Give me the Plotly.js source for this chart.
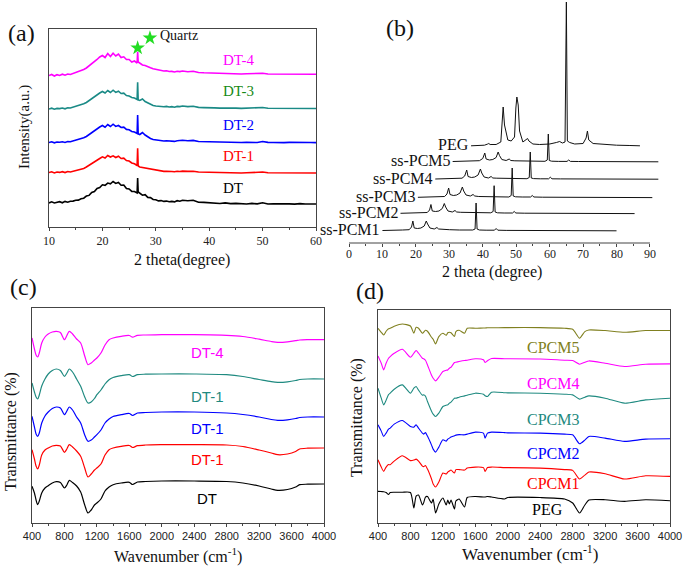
<!DOCTYPE html>
<html><head><meta charset="utf-8">
<script src="https://cdn.plot.ly/plotly-3.0.1.min.js"></script>
<style>html,body{margin:0;padding:0;background:#fff}#chart{width:685px;height:568px}</style>
</head><body><div id="chart"></div>
<script>
// ---------- Panel (a): XRD of DT samples (stacked intensity) ----------
const xA = [10,10.5,11,11.5,12,12.5,13,13.5,14,14.5,
  15,15.5,16,16.5,17,17.5,18,18.5,19,19.5,
  20,20.5,21,21.5,22,22.5,23,23.5,24,24.5,
  25,25.5,26,26.5,26.6,26.7,
  27,27.5,28,28.5,29,29.5,
  30,30.5,31,31.5,32,32.5,33,33.5,34,34.5,35,
  36,37,38,39,40,41,42,43,44,45,46,47,48,49,50,51,52,53,54,55,56,57,58,59,60];
const yDT = [24,25.2,24,24.8,25.3,24.2,25.6,24.8,25.8,25.9,
  26.8,26.9,28.3,28.8,30.9,31.6,34.5,35.4,38.6,39.4,
  42.2,41.6,43.9,43.2,45.5,43.6,44.5,41.8,42,38.4,
  38,35.6,35.5,34,49,35,
  33.6,31.8,32.4,29.6,29.4,27.5,
  27.3,26.1,26.4,25.6,25.9,25.2,25.6,25.1,26.3,25.8,26.8,
  26.3,26.8,24.8,24.6,24.2,24.1,23.5,24.1,23.4,23.6,23.3,23,23.6,23.1,24.2,23,23.2,23.4,23,23.1,22.9,23.4,23,23.1,23];
const yDT1 = [54.5,55.2,54,55,54.6,55.3,54.4,55.5,55,55.8,
  56,56.8,57.5,58.6,60,61.8,63.5,65.8,67,68.5,
  70.2,69,71.5,70,71.2,69.5,70.8,68.5,68.8,66.5,
  66,64,63.2,61.5,78.7,61,
  60,59.5,58.5,58,57.5,57,
  56.5,56.2,56,55.6,55.8,55.3,55.5,55.2,55.8,55.5,55.9,
  55.6,55.8,55,54.8,54.6,54.5,54.2,54.5,54.2,54.3,54,54.2,54.4,54.1,55,54.2,54.1,54.3,54,54.2,54,54.2,53.9,54.1,54];
const yDT2 = [84.5,85.2,84.2,85,84.8,85.3,84.6,85.4,85.2,86,
  86.3,87,88,89.2,90.5,92.5,94.5,96.5,98.2,100,
  101.5,99.8,102.5,100.5,102.8,100.6,101.5,99.5,99.8,97.6,
  97.2,95.5,95,93.5,112,93,
  92.5,94.5,92,90,88.5,87.5,
  87,86.5,86.4,86,86.2,85.8,86,85.6,86.3,86.5,86.8,
  86.2,86.6,85.5,85.3,85.5,85,84.8,85,84.6,84.8,84.5,84.7,84.9,84.5,85.5,84.6,84.5,84.8,84.4,84.6,84.4,84.6,84.3,84.5,84.4];
const yDT3 = [118,118.8,117.8,118.6,118.4,119,118.2,119.2,119,119.8,
  120.2,121,122,123.2,124.5,126.5,128.5,130.5,132.5,134,
  135.5,134,136.5,134.5,136.8,134.6,135.8,133.5,133.8,131.5,
  131,129.5,129,127.5,144.7,127,
  126.5,128,125.5,124,122.5,121.5,
  121,120.6,120.5,120.2,120.6,120,120.4,119.8,120.6,120.4,121,
  120.4,120.8,119.6,119.4,119.6,119.1,118.9,119.1,118.7,118.9,118.6,118.8,119,118.6,119.5,118.7,118.6,118.9,118.5,118.7,118.5,118.7,118.4,118.6,118.5];
const yDT4 = [151.5,152.5,151,152.3,151.6,152.8,151.8,153,152.5,153.5,
  154,155.2,156,157.5,159,161,163,165.5,167.5,170,
  171.5,169.5,173.5,170.5,173.8,171,173,169.5,170.2,167.5,
  167.5,165,166,164,175.3,165,
  163.5,162,161.5,160,159.2,158.2,
  157.5,157,156.5,156,156.2,155.5,155.6,155,155.8,155.4,156,
  155.2,155.8,154.5,154.2,154,153.6,153.4,153.6,153.2,153.3,153,153.2,153.4,153,153.8,153,152.9,153.2,152.8,153,152.7,152.9,152.6,152.8,152.7];
const namesA = ['DT','DT-1','DT-2','DT-3','DT-4'];
const starX = [26.6, 28.9];
const starY = [179, 189];

// ---------- Panel (b): XRD waterfall ----------
const xP1 = [10,12,14,16,18,18.7,19.1,19.5,20.5,21.5,22.5,23.1,23.5,24.2,25.5,26.3,26.8,28,30,33,35,37,37.7,38,38.3,39,41,43.5,44,44.5,47,50,55,60,65,70,75,80];
const yP1 = [12.5,12.5,12.8,13,13.3,16,22,15,14.5,15,17,22,19,15,14,15.5,14,13.5,13.3,13,13,13,14,40,14,13,12.8,12.8,14.5,12.8,12.6,12.6,12.5,12.4,12.4,12.5,12.3,12.2];
const xP2 = [15.4,17.4,19.4,21.4,23.4,24.1,24.5,24.9,25.9,26.9,27.9,28.5,28.9,29.6,30.9,31.7,32.2,33.4,35.4,38.4,40.4,42.4,43.1,43.4,43.7,44.4,46.4,48.9,49.4,49.9,52.4,55.4,60.4,65.4,70.4,75.4,80.4,85.4];
const yP2 = [29.7,29.8,30,30.2,30.5,33,38.5,32,31.5,32,34.5,39.5,36,32,31,32.5,31,30.7,30.5,30.3,30.2,30.2,31.5,57.3,31,30.2,30,30,31.5,30,29.8,29.8,29.7,29.6,29.6,29.7,29.5,29.4];
const xP3 = [20.6,22.6,24.6,26.6,28.6,29.3,29.8,30.2,31.2,32.2,33.2,33.9,34.3,35,36.3,37.1,37.6,38.8,40.8,43.8,45.8,47.8,48.5,48.8,49.1,49.8,51.8,54.3,54.8,55.3,57.8,60.8,65.8,70.8,75.8,80.8,85.8,90.7];
const yP3 = [45.7,45.8,46,46.2,46.5,49,55,48.5,47.5,48,50,56,52,48,47,48.5,47,46.5,46.3,46.1,46,46,47.5,75,47,46.2,46,46,47.5,46,45.8,45.8,45.7,45.6,45.6,45.7,45.5,45.4];
const xP4 = [25.8,27.8,29.8,31.8,33.8,34.6,35.2,35.6,36.6,37.6,38.6,39.3,39.7,40.4,41.7,42.5,43,44.2,46.2,49.2,51.2,53.2,53.9,54.2,54.5,55.2,57.2,59.7,60.2,60.7,63.2,66.2,71.2,76.2,81.2,86.2,90,92.5];
const yP4 = [64,64.1,64.3,64.5,64.8,67,73,66.5,65.5,66,68,74,70,66,65,66.5,65,64.8,64.6,64.4,64.3,64.3,65.5,91,65,64.4,64.2,64.2,65.8,64.2,64.1,64,64,63.9,63.9,64,63.8,63.8];
const xP5 = [31,33,35,37,39,40,40.6,41,42,43,44,44.6,45,45.7,47,47.9,48.4,49.6,51.6,54.6,56.6,58.6,59.3,59.6,59.9,60.6,62.6,65.2,65.7,66.2,68.6,71.6,76.6,81.6,86.6,90,91.5,92.5];
const yP5 = [81.5,81.6,81.8,82,82.3,84.5,90,84,83,83.5,85.5,91,87.5,83.5,82.5,84,82.5,82.2,82,81.8,81.7,81.7,83,109,82.5,81.8,81.6,81.6,83,81.6,81.5,81.4,81.4,81.3,81.3,81.4,81.2,81.2];
const xPEG = [36.5,38.5,40.5,41.5,41.8,42.2,44,45.4,45.8,46.1,46.5,47.5,48.5,49.5,49.9,50.2,50.6,51,52,53,53.4,53.8,55,57,60,62,63,63.8,64.6,65,65.3,66,66.5,67.5,70,70.9,71.3,71.7,73,76,80,84,87];
const yPEG = [97.2,97.5,97.8,99,99.5,98.5,98.5,101,125,136,118,103,102,106,135,146,138,112,101,103,104.5,102,99,98.5,99,100.5,101.5,100,101,241,102,100.5,100,99,99.5,105,112,103,99.5,98.5,97.8,97.5,97.2];
const namesB = ['ss-PCM1','ss-PCM2','ss-PCM3','ss-PCM4','ss-PCM5','PEG'];
const ticksB = [0,10,20,30,40,50,60,70,80,90];

// ---------- Panel (c): FTIR of DT samples ----------
const wnC = [400,430,450,470,490,520,560,600,650,700,750,800,830,860,900,950,1000,1050,1090,1130,1170,1200,1250,1300,1350,1400,1500,1600,1640,1700,1800,2000,2400,2800,3000,3200,3350,3430,3550,3650,3700,3800,4000];
const cDT  = [36.7,30,23,18.3,22,30,35,37.3,40,41.3,40.5,35,38,42.7,40.5,37,31,18,10,13,18,20,24,32,36,38.3,40,40.7,38.5,41,41.5,42,42,41.5,40,37,34,32.7,33.5,36,38.3,38.8,39];
const cRed = [73.3,64,57,54,58,68,73,75,77,77.7,77,70.7,74,78.3,76,72,66.7,55,46,49,53,55,59,68,73.3,75,76.7,77.5,75.5,77.3,78,78.3,78.3,78,76.5,73,70,68.3,69,71.5,74,74.8,75];
const cBlue = [106.7,96,89,86.7,90,100,107,111,114.5,116,115,108.3,112,116,113,106,100,88,81.7,83,86,88.3,93,100,104,106.5,108.3,109.5,107.5,110,110.5,111,111,110,108.5,106,103.5,102.7,103.2,104.5,105.5,106,106];
const cTeal = [140,131,126,124,128,137,144,149,152.5,154,152.5,146.7,150,154,151,144,136.7,126,120,121,124.5,128.3,133,139,143.3,145.5,147.3,148.3,146.5,148.3,148.8,149,149,148.3,146.5,143.5,141.3,140.7,141.2,142.5,143.5,144,144];
const cPink = [185,174,168,166,170,180,186,189,191,191.7,190.5,183.3,187.5,191.7,189,184,180,167,158.3,160,163,165,170,178,183.3,185,186.7,187.5,185.8,187.7,188,188.3,188.3,187.7,186.5,183.8,181.5,180.7,181.2,182.3,183,183.3,183.3];
const namesC = ['DT','DT-1','DT-1','DT-1','DT-4'];

// ---------- Panel (d): FTIR of PEG and CPCMs ----------
const wnD = [400,440,470,500,530,550,600,700,800,842,870,900,947,962,985,1010,1060,1080,1110,1150,1200,1241,1260,1280,1300,1343,1360,1400,1467,1500,1600,1700,1720,1750,1800,1960,2000,2400,2700,2800,2885,2950,3000,3200,3440,3700,4000];
const dPEG = [31.7,31.5,31.3,30.5,28.5,30.5,30.8,30.8,30.5,15,27,28,18,20,26,26.5,20,24,10,19,25,18,23,19,23,14,22,24,16,25.5,26.5,26,26,26.5,26,24,25.5,25.5,24,20,10,18,23,23.3,21.7,23.3,22.3];
const dC1 = [63.3,56,51.7,56,58.5,58.3,62,67.3,62.5,63,64,62,57,56.5,57.5,54,44,39,36,41,50,49,51,52,53,50,53.5,53.5,53,55,56,55.5,51.7,55.5,56,55.5,55.5,55,53.5,52.7,44,48,51,49.3,44,47.3,46.7];
const dC2 = [98.3,92,86.7,90,94,95,99,102.7,96.7,96,98.3,95,90,89,90.5,87,78,74,71,76,83.3,82,84,85,86,87.3,88,88.5,88.3,89,91,90,85,90,91,90.5,90.3,90,89,88.3,79.3,83,86.7,85,81.7,84,84.3];
const dC3 = [135,125,118.3,123,128.5,130,134,138.3,130,135,136.7,133,128,128.5,127,121.7,112,109,106.7,110,116.7,118,118.3,120,121,125,125,126,127.3,128,130,129,127.5,126.7,131,130.5,130.3,130,129,128.3,124,126,127.3,125,120,123.3,125];
const dC4 = [167.3,160,153.3,160,165,166.7,170,174,166,170,172.7,170,165,164.5,163,158.3,148,145,142.3,146,151.7,153,153.3,155,156,160.7,161,161.7,162.7,163,164.5,163.5,160.7,162.5,164.7,164.5,164.5,164.3,163,162.7,159,161,162.3,160,156.7,159,159.3];
const dC5 = [195,191,188.3,192,194.5,195,197,199.3,197.3,190,196,195,190,191,193,192,186,184,179.3,186.7,190,188,190.5,191,190.5,186.7,191.7,193,190,195,195,195.3,195.3,195.5,195.5,195.7,195.7,195.7,195,194,185,191.7,193.3,192.7,191,192.7,192.7];
const namesD = ['PEG','CPCM1','CPCM2','CPCM3','CPCM4','CPCM5'];

// ---------- styling ----------
const W = 685, H = 568;
const SERIF = 'Liberation Serif, Times New Roman, serif';
const SANS = 'Liberation Sans, Arial, sans-serif';
const FRAME = '#444';
const colA = ['#000000','#ff0000','#0000ff','#1a8a86','#ff00ff'];
const labColA = ['#000000','#ff0000','#0000ff','#158a15','#ff00ff'];
const colC = ['#000000','#ff0000','#0000ff','#1f8a80','#ff00ff'];
const colD = ['#000000','#ff0000','#0000ff','#1f8a80','#ff00ff','#808020'];

const traces = [];
const aY = [yDT,yDT1,yDT2,yDT3,yDT4];
aY.forEach((y,i)=>traces.push({x:xA,y:y,xaxis:'x',yaxis:'y',mode:'lines',name:namesA[i],line:{color:colA[i],width:1.6}}));
traces.push({x:starX,y:starY,xaxis:'x',yaxis:'y',mode:'markers',name:'Quartz',marker:{symbol:'star',size:11,color:'#22dd22',line:{width:0}},cliponaxis:false});
const bX = [xP1,xP2,xP3,xP4,xP5,xPEG], bY = [yP1,yP2,yP3,yP4,yP5,yPEG];
bX.forEach((x,i)=>traces.push({x:x,y:bY[i],xaxis:'x2',yaxis:'y2',mode:'lines',name:namesB[i],line:{color:'#111',width:1}}));
const cY = [cDT,cRed,cBlue,cTeal,cPink];
cY.forEach((y,i)=>traces.push({x:wnC,y:y,xaxis:'x3',yaxis:'y3',mode:'lines',name:namesC[i],line:{color:colC[i],width:1.2,shape:'spline',smoothing:0.8}}));
const dY = [dPEG,dC1,dC2,dC3,dC4,dC5];
dY.forEach((y,i)=>traces.push({x:wnD,y:y,xaxis:'x4',yaxis:'y4',mode:'lines',name:namesD[i],line:{color:colD[i],width:1.1,shape:'spline',smoothing:0.6}}));

function px(x){return x/W;} function py(y){return 1-y/H;}
function frameX(anchor,dom,range,t0,dt,mdt,font){
  return {anchor:anchor,domain:dom,range:range,showgrid:false,zeroline:false,showline:true,mirror:true,linecolor:FRAME,linewidth:1,
    ticks:'outside',ticklen:3,tickcolor:FRAME,tick0:t0,dtick:dt,tickfont:font,
    minor:{ticks:'outside',ticklen:2,dtick:mdt,tickcolor:FRAME,showgrid:false}};
}
function frameY(anchor,dom,range){
  return {anchor:anchor,domain:dom,range:range,showgrid:false,zeroline:false,showline:true,mirror:true,linecolor:FRAME,linewidth:1,
    ticks:'',showticklabels:false};
}
const layout = {
  width:W,height:H,margin:{l:0,r:0,t:0,b:0},paper_bgcolor:'#fff',plot_bgcolor:'#fff',showlegend:false,
  xaxis: frameX('y',[px(49),px(316)],[10,60],10,10,5,{family:SERIF,size:12,color:'#222'}),
  yaxis: frameY('x',[py(227),py(29)],[0,198]),
  xaxis2:{anchor:'y2',domain:[px(349),px(660)],range:[0,93],showgrid:false,zeroline:false,showline:false,
    ticks:'outside',ticklen:3,tickcolor:FRAME,tickmode:'array',tickvals:ticksB,showticklabels:false,
    minor:{ticks:'outside',ticklen:2,dtick:5,tickcolor:FRAME,showgrid:false}},
  yaxis2:{anchor:'x2',domain:[py(243),1],range:[0,243],visible:false},
  xaxis3: frameX('y3',[px(32),px(324)],[400,4000],400,400,200,{family:SANS,size:11,color:'#222'}),
  yaxis3: frameY('x3',[py(523),py(308)],[0,215]),
  xaxis4: frameX('y4',[px(378),px(670)],[400,4000],400,400,200,{family:SANS,size:11,color:'#222'}),
  yaxis4: frameY('x4',[py(523),py(310)],[0,213.3]),
  shapes:[{type:'line',xref:'x2',yref:'paper',x0:0,x1:90,y0:py(243),y1:py(243),line:{color:FRAME,width:1}}],
  annotations:[]
};
const A = layout.annotations;
function ann(text,x,y,size,family,color,extra){A.push(Object.assign({text:text,x:px(x),y:py(y),xref:'paper',yref:'paper',showarrow:false,
  font:{family:family,size:size,color:color||'#111'},xanchor:'center',yanchor:'middle'},extra||{}));}
// panel letters
ann('(a)',21,33,24,SERIF); ann('(b)',400,28,24,SERIF); ann('(c)',23,287,24,SERIF); ann('(d)',370,291,24,SERIF);
// axis titles
ann('Intensity(a.u.)',25,127,15,SERIF,'#111',{textangle:-90});
ann('2 theta(degree)',182,260,16,SERIF);
ann('2 theta (degree)',492,272,16,SERIF);
ann('Transmittance (%)',11,432,16,SERIF,'#111',{textangle:-90});
ann('Transmittance (%)',357,418,16,SERIF,'#111',{textangle:-90});
ann('Wavenumber (cm<sup>-1</sup>)',178,555,16,SERIF);
ann('Wavenumber (cm<sup>-1</sup>)',530,553,17,SERIF);
// panel (b) tick labels, placed on the x2 scale
ticksB.forEach(t=>A.push({text:String(t),x:t,y:py(254),xref:'x2',yref:'paper',showarrow:false,xanchor:'center',yanchor:'middle',
  font:{family:SERIF,size:12,color:'#222'}}));
// panel (a) labels
const labA = [[233,188],[238,156],[238,125],[238,91],[239,60]];
namesA.forEach((n,i)=>ann(n,labA[i][0],labA[i][1],15,SERIF,labColA[i]));
A.push({text:'Quartz',x:30.5,y:191,xref:'x',yref:'y',showarrow:false,xanchor:'left',yanchor:'middle',font:{family:SERIF,size:14,color:'#111'}});
// panel (b) labels at the start of each pattern
namesB.forEach((n,i)=>A.push({text:n,x:bX[i][0],y:bY[i][0]+1,xref:'x2',yref:'y2',showarrow:false,xanchor:'right',yanchor:'middle',
  font:{family:SERIF,size:16,color:'#111'}}));
// panel (c) labels
const labC = [[207,498],[207,459],[207,428],[207,396],[207,352]];
namesC.forEach((n,i)=>ann(n,labC[i][0],labC[i][1],15,SANS,colC[i]));
// panel (d) labels
const labD = [[547,509],[553,483],[553,453],[553,419],[553,383],[553,347]];
namesD.forEach((n,i)=>ann(n,labD[i][0],labD[i][1],16,SERIF,colD[i]));

Plotly.newPlot('chart',traces,layout,{displayModeBar:false,staticPlot:true});
</script></body></html>
